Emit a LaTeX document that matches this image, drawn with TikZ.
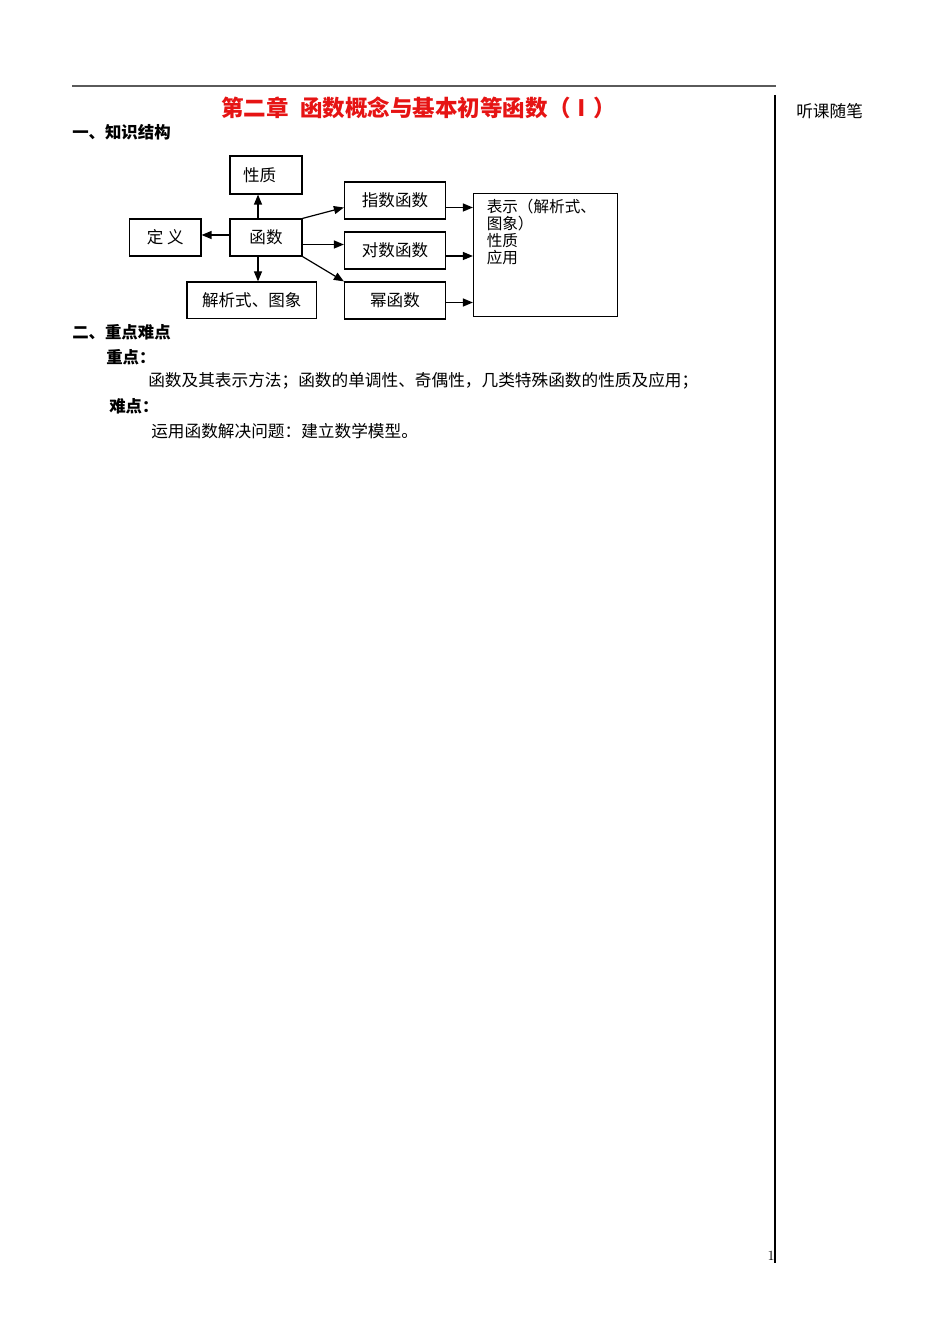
\documentclass[tikz,border=0pt]{standalone}
\usepackage{fontspec}
\newfontfamily\cjk{Noto Sans CJK SC}
\usetikzlibrary{arrows.meta}
\definecolor{titlered}{RGB}{230,20,20}
\definecolor{rulegray}{RGB}{90,90,90}
\tikzset{
  box/.style={draw=black, line width=0.9pt, rectangle, inner sep=0pt, font=\cjk\fontsize{12.4}{14}\selectfont},
  arr/.style={line width=0.9pt, -{Triangle[length=7.5pt,width=6pt]}},
  txt/.style={inner sep=0pt, anchor=west, font=\cjk\fontsize{12.5}{14}\selectfont},
  head/.style={inner sep=0pt, anchor=west, font=\cjk\bfseries\fontsize{12.3}{14}\selectfont},
}
\begin{document}
\begin{tikzpicture}[x=0.75pt,y=-0.75pt]
\useasboundingbox (0,0) rectangle (950,1344);
% page rules
\coordinate (r1) at (72,86);
\coordinate (r2) at (775.5,86);
\draw[rulegray, line width=1.6pt] (r1) -- (r2);
\coordinate (v1) at (775,95);
\coordinate (v2) at (775,1263);
\draw[black, line width=0.9pt] (v1) -- (v2);
% title and side note
\node[inner sep=0pt, anchor=west, text=titlered, font=\cjk\bfseries\fontsize{16.9}{18}\selectfont] (title) at (221,108) {第二章\hspace{0.5em}函数概念与基本初等函数（Ⅰ）};
\node[txt] (side) at (796,111) {听课随笔};
\node[inner sep=0pt, anchor=east, font=\fontsize{10.5}{12}\selectfont] (pg) at (775,1256) {1};
% headings
\node[head] (h1) at (72,132) {一、知识结构};
\node[head] (h2) at (72,332) {二、重点难点};
\node[head] (h3) at (106,357) {重点：};
\node[txt] (t1) at (148,381) {函数及其表示方法；函数的单调性、奇偶性，几类特殊函数的性质及应用；};
\node[head] (h4) at (109,406) {难点：};
\node[txt] (t2) at (151,431) {运用函数解决问题：建立数学模型。};
% diagram boxes
\node[box, text width=46*0.75pt, align=left, minimum width=54pt, minimum height=28.5pt] (xz) at (266,175) {性质};
\node[box, minimum width=54pt, minimum height=27.75pt] (hs) at (266,237.5) {函数};
\node[box, minimum width=53.6pt, minimum height=27.75pt] (dy) at (165.25,237.5) {定\ 义};
\node[box, minimum width=97.1pt, minimum height=27.4pt] (jx) at (251.75,300.25) {解析式、图象};
\node[box, minimum width=75.75pt, minimum height=27.75pt] (zs) at (395,200.5) {指数函数};
\node[box, minimum width=75.75pt, minimum height=27.75pt] (ds) at (395,250.5) {对数函数};
\node[box, minimum width=75.75pt, minimum height=27.75pt] (ms) at (395,300.5) {幂函数};
\node[box, minimum width=108pt, minimum height=92.25pt] (bb) at (545.5,255) {};
\node[inner sep=0pt, anchor=north west, align=left, font=\cjk\fontsize{11.7}{12.75}\selectfont] (bbt) at (486.5,199) {表示（解析式、\\图象）\\性质\\应用};
% connectors
\coordinate (vx) at (258,0);
\coordinate (hy) at (0,235);
\coordinate (ya) at (0,207.5);
\coordinate (yb) at (0,244.5);
\coordinate (yc) at (0,256);
\coordinate (yd) at (0,302.5);
\draw[arr] (hs.north -| vx) -- (xz.south -| vx);
\draw[arr] (hs.south -| vx) -- (jx.north -| vx);
\draw[arr] (hs.west |- hy) -- (dy.east |- hy);
\draw[arr] (hs.north east) -- (zs.west |- ya);
\draw[arr] (hs.east |- yb) -- (ds.west |- yb);
\draw[arr] (hs.south east) -- (ms.north west);
\draw[arr] (zs.east |- ya) -- (bb.west |- ya);
\draw[arr] (ds.east |- yc) -- (bb.west |- yc);
\draw[arr] (ms.east |- yd) -- (bb.west |- yd);
\end{tikzpicture}
\end{document}
